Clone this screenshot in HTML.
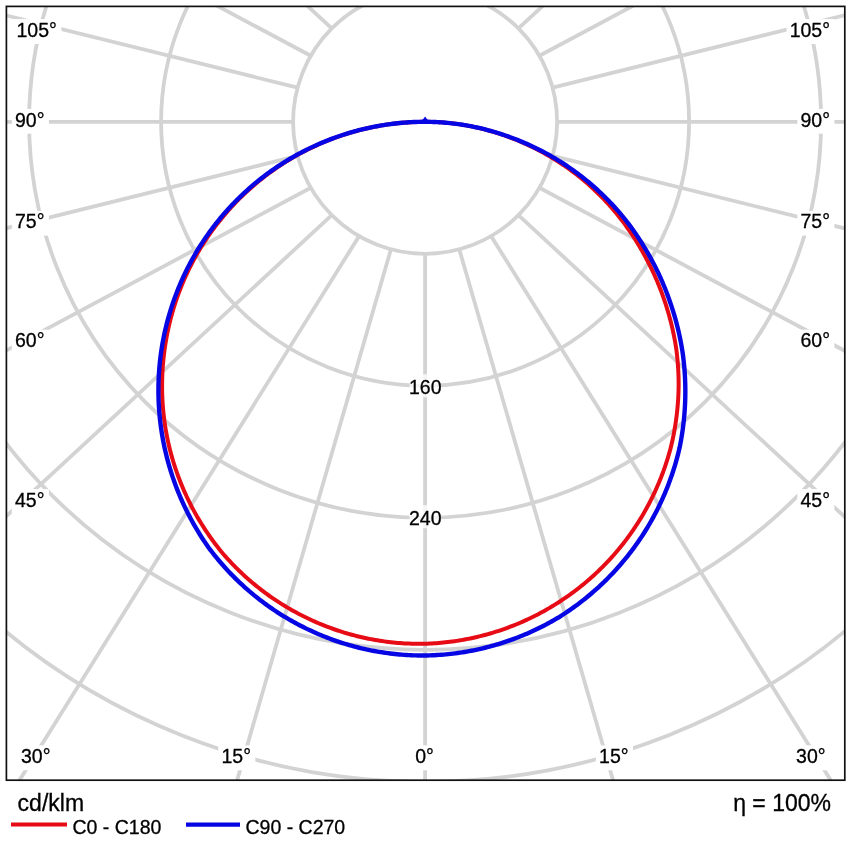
<!DOCTYPE html><html><head><meta charset="utf-8"><style>html,body{margin:0;padding:0;background:#fff;width:848px;height:848px;overflow:hidden}svg{display:block;will-change:transform}text{font-family:"Liberation Sans",Arial,sans-serif;fill:#000;stroke:#000;stroke-width:0.3px}</style></head><body>
<svg width="848" height="848" viewBox="0 0 848 848">
<rect width="848" height="848" fill="#fff"/>
<defs><clipPath id="fr"><rect x="6.4" y="6.4" width="838.4" height="773.8000000000001"/></clipPath></defs>
<g clip-path="url(#fr)" fill="none" stroke="#d3d3d3" stroke-width="3.8">
<circle cx="425.1" cy="121.8" r="132.00"/>
<circle cx="425.1" cy="121.8" r="264.00"/>
<circle cx="425.1" cy="121.8" r="396.00"/>
<circle cx="425.1" cy="121.8" r="528.00"/>
<circle cx="425.1" cy="121.8" r="660.00"/>
<path d="M425.10 253.80L425.10 783.20M390.94 249.30L236.28 783.20M359.10 236.12L17.63 783.20M331.76 215.14L3.40 518.87M310.78 187.80L3.40 351.96M297.60 155.96L3.40 228.88M293.10 121.80L3.40 121.80M297.60 87.64L3.40 14.72M310.78 55.80L212.67 3.40M331.76 28.46L304.67 3.40M359.10 7.48L356.55 3.40M491.10 7.48L493.65 3.40M518.44 28.46L545.53 3.40M539.42 55.80L637.53 3.40M552.60 87.64L847.80 14.47M557.10 121.80L847.80 121.80M552.60 155.96L847.80 229.13M539.42 187.80L847.80 352.49M518.44 215.14L847.80 519.80M491.10 236.12L832.57 783.20M459.26 249.30L613.92 783.20"/>
</g>
<g fill="#fff">
<rect x="13.3" y="19.1" width="48.1" height="24.9" fill-opacity="1"/>
<rect x="11.8" y="108.9" width="37.1" height="24.8" fill-opacity="1"/>
<rect x="11.8" y="210.8" width="37.1" height="24.8" fill-opacity="1"/>
<rect x="11.8" y="329.7" width="37.1" height="24.8" fill-opacity="1"/>
<rect x="11.8" y="489.1" width="37.1" height="24.8" fill-opacity="1"/>
<rect x="17.8" y="745.4" width="37.1" height="24.9" fill-opacity="1"/>
<rect x="218.3" y="745.4" width="37.1" height="24.9" fill-opacity="1"/>
<rect x="412.1" y="745.4" width="26.3" height="24.9" fill-opacity="1"/>
<rect x="595.9" y="745.4" width="37.1" height="24.9" fill-opacity="1"/>
<rect x="792.9" y="745.4" width="37.1" height="24.9" fill-opacity="1"/>
<rect x="797.3" y="489.1" width="37.1" height="24.8" fill-opacity="1"/>
<rect x="797.3" y="329.7" width="37.1" height="24.8" fill-opacity="1"/>
<rect x="797.3" y="210.8" width="37.1" height="24.8" fill-opacity="1"/>
<rect x="797.3" y="108.9" width="37.1" height="24.8" fill-opacity="1"/>
<rect x="786.5" y="19.1" width="48.1" height="24.9" fill-opacity="1"/>
<rect x="409.5" y="374.2" width="31.1" height="23.1" fill-opacity="0.75"/>
<rect x="409.5" y="505.1" width="31.1" height="23.1" fill-opacity="0.75"/>
</g>
<g font-size="19.5">
<text x="16.5" y="36.8" text-anchor="start">105°</text>
<text x="15.0" y="126.6" text-anchor="start">90°</text>
<text x="15.0" y="228.4" text-anchor="start">75°</text>
<text x="15.0" y="347.3" text-anchor="start">60°</text>
<text x="15.0" y="506.7" text-anchor="start">45°</text>
<text x="21.0" y="763.0" text-anchor="start">30°</text>
<text x="236.2" y="763.0" text-anchor="middle">15°</text>
<text x="424.6" y="763.0" text-anchor="middle">0°</text>
<text x="613.8" y="763.0" text-anchor="middle">15°</text>
<text x="825.6" y="763.0" text-anchor="end">30°</text>
<text x="830.0" y="506.7" text-anchor="end">45°</text>
<text x="830.0" y="347.3" text-anchor="end">60°</text>
<text x="830.0" y="228.4" text-anchor="end">75°</text>
<text x="830.0" y="126.6" text-anchor="end">90°</text>
<text x="830.0" y="36.8" text-anchor="end">105°</text>
<text x="425.3" y="393.8" text-anchor="middle">160</text>
<text x="425.3" y="524.8" text-anchor="middle">240</text>
</g>
<path d="M425.10 121.80L427.13 121.81L429.16 121.84L431.19 121.88L433.23 121.94L435.26 122.02L437.30 122.12L439.34 122.23L441.38 122.37L443.42 122.52L445.46 122.69L447.50 122.88L449.54 123.08L451.59 123.30L453.63 123.55L455.68 123.80L457.72 124.08L459.76 124.38L461.81 124.69L463.85 125.02L465.89 125.37L467.93 125.74L469.97 126.12L472.01 126.52L474.05 126.94L476.08 127.38L478.12 127.84L480.15 128.32L482.18 128.81L484.21 129.32L486.23 129.85L488.26 130.40L490.28 130.96L492.30 131.54L494.31 132.14L496.32 132.76L498.33 133.40L500.34 134.05L502.34 134.73L504.34 135.42L506.33 136.12L508.35 136.85L510.36 137.60L512.36 138.37L514.37 139.15L516.37 139.95L518.36 140.77L520.35 141.61L522.34 142.47L524.32 143.34L526.30 144.24L528.28 145.15L530.25 146.08L532.21 147.02L534.17 147.99L536.13 148.97L538.07 149.97L540.02 150.99L541.96 152.02L543.89 153.07L545.81 154.14L547.70 155.22L549.58 156.32L551.45 157.43L553.31 158.56L555.17 159.71L557.02 160.88L558.86 162.06L560.69 163.25L562.51 164.47L564.32 165.70L566.13 166.94L567.93 168.21L569.71 169.49L571.49 170.78L573.26 172.09L575.02 173.42L576.77 174.77L578.51 176.13L580.24 177.50L581.96 178.89L583.63 180.28L585.29 181.69L586.93 183.11L588.57 184.55L590.19 186.00L591.80 187.46L593.40 188.94L594.98 190.44L596.56 191.95L598.12 193.47L599.67 195.00L601.21 196.55L602.73 198.12L604.24 199.69L605.74 201.28L607.23 202.89L608.70 204.51L610.16 206.14L611.61 207.78L613.04 209.44L614.46 211.11L615.87 212.79L617.26 214.49L618.64 216.19L620.00 217.91L621.35 219.65L622.69 221.39L624.01 223.15L625.31 224.92L626.61 226.70L627.88 228.49L629.15 230.29L630.39 232.11L631.63 233.93L632.84 235.77L634.05 237.62L635.23 239.48L636.40 241.35L637.56 243.23L638.70 245.12L639.83 247.02L640.93 248.94L642.03 250.86L643.11 252.79L644.21 254.76L645.31 256.74L646.39 258.74L647.45 260.74L648.49 262.75L649.52 264.77L650.54 266.81L651.53 268.85L652.51 270.90L653.48 272.96L654.43 275.03L655.36 277.11L656.27 279.20L657.17 281.30L658.05 283.40L658.91 285.52L659.76 287.64L660.59 289.77L661.40 291.91L662.20 294.06L662.97 296.22L663.73 298.38L664.48 300.55L665.20 302.73L665.92 304.92L666.62 307.12L667.30 309.33L667.96 311.55L668.61 313.77L669.24 316.00L669.85 318.23L670.44 320.47L671.01 322.72L671.57 324.97L672.11 327.23L672.62 329.50L673.12 331.77L673.61 334.04L674.07 336.33L674.51 338.61L674.94 340.90L675.35 343.20L675.73 345.50L676.10 347.81L676.41 350.07L676.69 352.34L676.95 354.61L677.20 356.88L677.42 359.16L677.63 361.44L677.82 363.72L677.99 366.01L678.13 368.30L678.26 370.58L678.37 372.87L678.47 375.17L678.54 377.46L678.59 379.75L678.62 382.05L678.64 384.35L678.62 386.63L678.57 388.91L678.51 391.19L678.43 393.47L678.34 395.75L678.22 398.03L678.08 400.31L677.92 402.59L677.74 404.86L677.55 407.14L677.33 409.42L677.10 411.69L676.84 413.96L676.57 416.23L676.28 418.50L675.97 420.77L675.63 423.04L675.28 425.30L674.91 427.56L674.52 429.81L674.12 432.07L673.69 434.32L673.24 436.57L672.78 438.81L672.29 441.05L671.79 443.29L671.26 445.52L670.72 447.75L670.14 449.94L669.53 452.13L668.91 454.31L668.27 456.49L667.61 458.66L666.93 460.83L666.23 462.99L665.51 465.14L664.78 467.29L664.02 469.43L663.25 471.57L662.46 473.70L661.65 475.82L660.82 477.94L659.98 480.05L659.12 482.15L658.23 484.25L657.33 486.33L656.42 488.41L655.48 490.49L654.53 492.55L653.56 494.61L652.57 496.65L651.56 498.69L650.54 500.72L649.50 502.75L648.44 504.76L647.36 506.76L646.27 508.76L645.16 510.75L644.03 512.72L642.88 514.69L641.72 516.65L640.54 518.59L639.35 520.53L638.13 522.46L636.90 524.37L635.66 526.28L634.40 528.18L633.12 530.06L631.82 531.93L630.51 533.80L629.19 535.65L627.84 537.49L626.49 539.32L625.11 541.13L623.72 542.94L622.32 544.73L620.89 546.51L619.46 548.28L618.01 550.04L616.54 551.78L615.05 553.50L613.55 555.21L612.04 556.91L610.51 558.60L608.96 560.27L607.41 561.92L605.83 563.57L604.25 565.20L602.64 566.82L601.03 568.42L599.40 570.01L597.76 571.59L596.10 573.15L594.43 574.69L592.75 576.23L591.05 577.74L589.34 579.25L587.62 580.74L585.88 582.21L584.13 583.67L582.37 585.11L580.60 586.54L578.81 587.95L577.02 589.35L575.21 590.73L573.38 592.10L571.55 593.45L569.71 594.78L567.85 596.10L565.98 597.40L564.10 598.69L562.21 599.96L560.31 601.21L558.40 602.45L556.47 603.67L554.54 604.88L552.60 606.06L550.64 607.23L548.68 608.39L546.70 609.52L544.72 610.64L542.73 611.74L540.72 612.83L538.71 613.90L536.69 614.95L534.66 615.98L532.62 616.99L530.57 617.99L528.51 618.97L526.45 619.93L524.37 620.87L522.29 621.80L520.20 622.71L518.10 623.59L516.00 624.47L513.88 625.32L511.76 626.15L509.64 626.97L507.50 627.76L505.36 628.54L503.21 629.30L501.06 630.04L498.90 630.77L496.73 631.47L494.56 632.16L492.38 632.82L490.19 633.47L488.00 634.10L485.81 634.71L483.61 635.30L481.40 635.87L479.19 636.42L476.97 636.95L474.75 637.46L472.53 637.96L470.30 638.43L468.07 638.89L465.83 639.32L463.59 639.74L461.35 640.13L459.10 640.51L456.85 640.87L454.59 641.21L452.34 641.52L450.08 641.82L447.82 642.10L445.55 642.36L443.29 642.60L441.02 642.82L438.75 643.02L436.48 643.20L434.20 643.36L431.93 643.50L429.65 643.62L427.38 643.72L425.10 643.80L422.82 643.83L420.54 643.85L418.27 643.84L415.99 643.81L413.71 643.77L411.43 643.70L409.16 643.62L406.88 643.51L404.61 643.39L402.33 643.24L400.06 643.08L397.79 642.89L395.52 642.69L393.25 642.46L390.99 642.22L388.73 641.95L386.47 641.67L384.21 641.36L381.95 641.04L379.70 640.70L377.45 640.34L375.21 639.95L372.97 639.55L370.73 639.13L368.49 638.69L366.26 638.23L364.03 637.75L361.81 637.25L359.59 636.73L357.38 636.19L355.17 635.63L352.97 635.05L350.77 634.46L348.57 633.84L346.39 633.21L344.20 632.55L342.03 631.88L339.86 631.19L337.69 630.48L335.54 629.75L333.38 629.00L331.24 628.23L329.10 627.44L326.97 626.64L324.85 625.82L322.73 624.97L320.62 624.11L318.52 623.23L316.42 622.34L314.34 621.42L312.26 620.49L310.19 619.53L308.13 618.56L306.08 617.57L304.03 616.57L302.00 615.54L299.97 614.50L297.95 613.44L295.95 612.36L293.95 611.27L291.96 610.16L289.98 609.03L288.01 607.88L286.05 606.72L284.10 605.54L282.16 604.34L280.24 603.13L278.32 601.90L276.41 600.65L274.52 599.39L272.63 598.11L270.76 596.81L268.90 595.50L267.05 594.17L265.21 592.82L263.38 591.46L261.57 590.08L259.77 588.68L257.98 587.27L256.20 585.85L254.44 584.41L252.68 582.95L250.94 581.48L249.22 579.99L247.50 578.49L245.80 576.97L244.12 575.44L242.44 573.89L240.78 572.33L239.14 570.75L237.51 569.16L235.89 567.56L234.28 565.94L232.69 564.30L231.12 562.66L229.56 560.99L228.01 559.32L226.48 557.63L224.96 555.93L223.46 554.21L221.99 552.45L220.54 550.67L219.10 548.88L217.68 547.07L216.27 545.26L214.88 543.43L213.51 541.59L212.15 539.73L210.81 537.87L209.48 535.99L208.17 534.11L206.88 532.21L205.61 530.30L204.35 528.38L203.10 526.45L201.88 524.50L200.67 522.55L199.48 520.59L198.30 518.61L197.15 516.63L196.01 514.63L194.88 512.63L193.78 510.62L192.69 508.59L191.62 506.56L190.57 504.52L189.54 502.47L188.52 500.41L187.52 498.34L186.54 496.26L185.58 494.17L184.64 492.08L183.71 489.98L182.81 487.87L181.92 485.75L181.05 483.62L180.20 481.49L179.36 479.35L178.55 477.20L177.76 475.04L176.98 472.88L176.22 470.71L175.48 468.54L174.76 466.36L174.06 464.17L173.38 461.98L172.72 459.78L172.08 457.57L171.45 455.36L170.85 453.14L170.27 450.92L169.70 448.70L169.15 446.47L168.63 444.23L168.12 441.99L167.63 439.74L167.17 437.50L166.72 435.24L166.29 432.99L165.88 430.73L165.50 428.45L165.14 426.17L164.80 423.89L164.48 421.61L164.18 419.32L163.90 417.03L163.64 414.74L163.40 412.45L163.18 410.15L162.98 407.85L162.80 405.55L162.64 403.25L162.50 400.95L162.38 398.65L162.28 396.35L162.20 394.04L162.14 391.74L162.10 389.43L162.08 387.13L162.08 384.82L162.10 382.52L162.14 380.21L162.20 377.91L162.28 375.61L162.38 373.30L162.50 371.00L162.64 368.70L162.80 366.40L162.98 364.11L163.18 361.81L163.40 359.52L163.63 357.22L163.89 354.93L164.17 352.65L164.47 350.36L164.79 348.08L165.13 345.80L165.49 343.53L165.87 341.26L166.27 338.99L166.67 336.73L167.10 334.48L167.55 332.23L168.02 329.98L168.50 327.74L169.01 325.50L169.53 323.27L170.08 321.04L170.64 318.82L171.23 316.60L171.83 314.39L172.45 312.18L173.10 309.98L173.76 307.78L174.44 305.59L175.14 303.41L175.85 301.23L176.59 299.06L177.35 296.89L178.12 294.73L178.92 292.58L179.73 290.44L180.56 288.30L181.41 286.17L182.28 284.05L183.17 281.93L184.07 279.82L185.00 277.73L185.94 275.63L186.90 273.55L187.88 271.48L188.87 269.41L189.89 267.35L190.92 265.31L191.97 263.27L193.04 261.24L194.12 259.22L195.23 257.21L196.35 255.20L197.49 253.21L198.65 251.23L199.83 249.25L201.03 247.29L202.24 245.33L203.47 243.39L204.72 241.46L205.98 239.54L207.26 237.63L208.56 235.73L209.88 233.84L211.21 231.96L212.55 230.10L213.92 228.25L215.29 226.41L216.69 224.58L218.10 222.76L219.53 220.96L220.97 219.17L222.42 217.39L223.90 215.62L225.38 213.87L226.89 212.13L228.40 210.41L229.94 208.69L231.48 206.99L233.05 205.31L234.62 203.64L236.21 201.98L237.82 200.33L239.44 198.70L241.07 197.09L242.72 195.49L244.38 193.90L246.05 192.33L247.74 190.77L249.44 189.23L251.16 187.70L252.89 186.19L254.63 184.69L256.38 183.21L258.15 181.74L259.93 180.29L261.72 178.86L263.52 177.44L265.34 176.03L267.17 174.64L269.01 173.27L270.86 171.92L272.72 170.58L274.60 169.25L276.48 167.95L278.38 166.66L280.29 165.38L282.21 164.13L284.14 162.89L286.08 161.66L288.03 160.46L289.99 159.27L291.97 158.10L293.95 156.94L295.95 155.80L297.95 154.68L299.97 153.58L302.00 152.49L304.03 151.43L306.08 150.38L308.13 149.34L310.19 148.33L312.26 147.33L314.34 146.36L316.42 145.40L318.52 144.45L320.62 143.53L322.73 142.63L324.85 141.74L326.97 140.87L329.10 140.03L331.24 139.20L333.38 138.39L335.54 137.59L337.69 136.82L339.86 136.06L342.03 135.33L344.20 134.61L346.39 133.92L348.57 133.24L350.77 132.58L352.97 131.94L355.17 131.32L357.38 130.72L359.59 130.13L361.81 129.57L364.03 129.03L366.26 128.50L368.49 128.00L370.73 127.51L372.97 127.05L375.21 126.60L377.45 126.18L379.70 125.77L381.95 125.39L384.21 125.02L386.47 124.67L388.73 124.34L390.99 124.04L393.25 123.75L395.52 123.48L397.79 123.23L400.06 123.00L402.33 122.79L404.61 122.61L406.88 122.44L409.16 122.29L411.43 122.16L413.71 122.05L415.99 121.96L418.27 121.89L420.54 121.84L422.82 121.81L425.10 121.80" fill="none" stroke="#e60b14" stroke-width="4.0" stroke-linejoin="round" stroke-linecap="round"/>
<path d="M425.10 121.80L427.15 121.81L429.21 121.84L431.26 121.88L433.32 121.94L435.39 122.02L437.45 122.12L439.52 122.24L441.59 122.38L443.67 122.53L445.74 122.70L447.82 122.89L449.90 123.10L451.98 123.33L454.06 123.57L456.14 123.83L458.23 124.12L460.31 124.42L462.40 124.74L464.49 125.07L466.57 125.43L468.66 125.80L470.75 126.20L472.83 126.61L474.92 127.04L477.01 127.48L479.10 127.95L481.18 128.44L483.27 128.94L485.35 129.46L487.43 130.01L489.51 130.57L491.59 131.14L493.67 131.74L495.75 132.36L497.82 132.99L499.89 133.65L501.96 134.32L504.03 135.01L506.09 135.72L508.15 136.44L510.24 137.20L512.32 137.96L514.39 138.75L516.47 139.56L518.54 140.39L520.61 141.23L522.67 142.10L524.74 142.98L526.80 143.88L528.85 144.80L530.91 145.74L532.95 146.70L535.00 147.68L537.04 148.67L539.08 149.69L541.11 150.72L543.13 151.78L545.16 152.85L547.17 153.94L549.19 155.05L551.14 156.16L553.08 157.29L555.02 158.44L556.95 159.61L558.87 160.79L560.79 161.99L562.69 163.21L564.59 164.45L566.48 165.70L568.36 166.97L570.24 168.26L572.10 169.56L573.96 170.89L575.80 172.22L577.64 173.58L579.47 174.95L581.28 176.34L583.09 177.75L584.89 179.17L586.68 180.61L588.42 182.05L590.16 183.51L591.88 184.99L593.59 186.48L595.29 187.98L596.97 189.50L598.65 191.04L600.31 192.59L601.96 194.16L603.60 195.74L605.23 197.33L606.84 198.95L608.45 200.57L610.04 202.21L611.61 203.87L613.18 205.54L614.73 207.22L616.26 208.92L617.79 210.63L619.30 212.36L620.74 214.07L622.17 215.80L623.59 217.54L624.99 219.29L626.38 221.06L627.75 222.84L629.11 224.63L630.45 226.43L631.78 228.25L633.09 230.07L634.39 231.91L635.67 233.76L636.93 235.62L638.18 237.49L639.41 239.38L640.63 241.27L641.83 243.18L643.02 245.09L644.18 247.02L645.34 248.95L646.52 250.93L647.68 252.91L648.82 254.90L649.95 256.91L651.07 258.92L652.17 260.95L653.25 262.98L654.31 265.03L655.36 267.08L656.39 269.15L657.40 271.22L658.40 273.30L659.38 275.40L660.34 277.50L661.28 279.61L662.21 281.73L663.12 283.86L664.01 286.00L664.89 288.15L665.74 290.30L666.58 292.46L667.40 294.63L668.21 296.81L668.99 299.00L669.78 301.21L670.55 303.42L671.30 305.65L672.04 307.88L672.75 310.12L673.45 312.37L674.13 314.62L674.79 316.88L675.43 319.14L676.05 321.42L676.66 323.70L677.24 325.98L677.81 328.27L678.36 330.57L678.89 332.87L679.40 335.18L679.89 337.50L680.36 339.81L680.82 342.14L681.25 344.47L681.66 346.80L682.06 349.14L682.44 351.48L682.79 353.83L683.10 356.15L683.38 358.47L683.65 360.80L683.90 363.13L684.13 365.47L684.34 367.81L684.52 370.15L684.69 372.49L684.84 374.83L684.97 377.18L685.08 379.52L685.17 381.87L685.24 384.22L685.29 386.57L685.32 388.93L685.33 391.28L685.32 393.63L685.30 395.99L685.25 398.34L685.18 400.70L685.09 403.05L684.98 405.41L684.85 407.76L684.70 410.12L684.53 412.47L684.35 414.82L684.14 417.18L683.91 419.53L683.66 421.88L683.39 424.22L683.11 426.57L682.80 428.91L682.47 431.25L682.12 433.59L681.76 435.93L681.37 438.26L680.96 440.60L680.53 442.93L680.09 445.25L679.62 447.57L679.10 449.84L678.55 452.10L677.99 454.36L677.40 456.62L676.80 458.86L676.17 461.11L675.53 463.35L674.87 465.58L674.19 467.81L673.49 470.03L672.77 472.25L672.03 474.46L671.28 476.66L670.50 478.86L669.70 481.05L668.89 483.23L668.06 485.41L667.21 487.58L666.34 489.75L665.45 491.90L664.54 494.05L663.61 496.19L662.67 498.32L661.71 500.45L660.72 502.56L659.72 504.67L658.71 506.77L657.67 508.86L656.62 510.95L655.55 513.02L654.46 515.08L653.35 517.14L652.22 519.18L651.08 521.22L649.92 523.25L648.74 525.26L647.55 527.27L646.33 529.26L645.11 531.25L643.86 533.22L642.59 535.19L641.31 537.14L640.02 539.08L638.70 541.02L637.37 542.94L636.02 544.85L634.66 546.74L633.28 548.63L631.88 550.50L630.46 552.35L629.03 554.20L627.59 556.03L626.12 557.85L624.65 559.66L623.15 561.46L621.64 563.24L620.12 565.01L618.58 566.76L617.02 568.51L615.45 570.24L613.86 571.95L612.26 573.66L610.65 575.34L609.02 577.02L607.38 578.68L605.72 580.33L604.05 581.96L602.36 583.58L600.66 585.18L598.94 586.77L597.22 588.34L595.47 589.90L593.72 591.44L591.95 592.97L590.17 594.48L588.37 595.98L586.57 597.46L584.75 598.93L582.91 600.38L581.07 601.82L579.21 603.23L577.34 604.64L575.46 606.02L573.56 607.39L571.65 608.75L569.74 610.09L567.81 611.41L565.87 612.71L563.91 614.00L561.95 615.27L559.98 616.52L557.99 617.76L555.99 618.94L553.97 620.11L551.95 621.26L549.91 622.39L547.87 623.50L545.81 624.60L543.75 625.68L541.67 626.74L539.59 627.78L537.50 628.80L535.40 629.81L533.29 630.80L531.17 631.76L529.05 632.72L526.91 633.65L524.77 634.56L522.62 635.46L520.46 636.33L518.30 637.19L516.12 638.03L513.94 638.85L511.76 639.65L509.56 640.43L507.36 641.19L505.16 641.93L502.94 642.66L500.72 643.36L498.50 644.05L496.27 644.71L494.03 645.36L491.78 645.98L489.54 646.59L487.28 647.18L485.02 647.75L482.76 648.30L480.49 648.82L478.22 649.33L475.94 649.82L473.66 650.29L471.38 650.74L469.09 651.17L466.79 651.58L464.50 651.97L462.20 652.34L459.90 652.69L457.59 653.01L455.28 653.32L452.97 653.61L450.66 653.88L448.34 654.13L446.02 654.36L443.70 654.57L441.38 654.75L439.06 654.92L436.74 655.07L434.41 655.20L432.08 655.30L429.76 655.39L427.43 655.45L425.10 655.50L422.77 655.51L420.44 655.49L418.11 655.46L415.79 655.41L413.46 655.33L411.13 655.24L408.81 655.13L406.48 654.99L404.16 654.84L401.83 654.66L399.51 654.47L397.20 654.25L394.88 654.02L392.56 653.76L390.25 653.48L387.94 653.19L385.63 652.87L383.33 652.53L381.03 652.18L378.73 651.80L376.44 651.40L374.15 650.98L371.86 650.55L369.57 650.09L367.29 649.61L365.02 649.12L362.75 648.60L360.48 648.06L358.22 647.51L355.97 646.93L353.71 646.34L351.47 645.72L349.23 645.09L346.99 644.43L344.76 643.76L342.54 643.06L340.32 642.35L338.11 641.62L335.91 640.87L333.71 640.10L331.52 639.31L329.34 638.50L327.16 637.67L324.99 636.82L322.83 635.96L320.67 635.07L318.53 634.17L316.39 633.25L314.26 632.31L312.14 631.35L310.02 630.37L307.92 629.37L305.82 628.36L303.73 627.32L301.66 626.27L299.59 625.20L297.53 624.11L295.48 623.01L293.44 621.89L291.41 620.74L289.39 619.59L287.38 618.42L285.37 617.23L283.38 616.02L281.40 614.80L279.44 613.55L277.48 612.29L275.53 611.02L273.60 609.72L271.67 608.41L269.76 607.09L267.86 605.74L265.97 604.38L264.09 603.01L262.23 601.61L260.37 600.20L258.53 598.78L256.70 597.34L254.89 595.88L253.09 594.40L251.30 592.91L249.52 591.41L247.76 589.89L246.01 588.35L244.27 586.80L242.55 585.24L240.84 583.65L239.14 582.06L237.46 580.45L235.80 578.82L234.14 577.18L232.50 575.53L230.88 573.86L229.27 572.17L227.68 570.48L226.10 568.77L224.53 567.04L222.98 565.30L221.45 563.55L219.93 561.79L218.43 560.01L216.94 558.21L215.47 556.41L214.01 554.59L212.57 552.76L211.15 550.92L209.74 549.06L208.35 547.20L207.00 545.27L205.66 543.33L204.35 541.38L203.05 539.42L201.76 537.45L200.50 535.47L199.25 533.47L198.02 531.47L196.80 529.45L195.61 527.43L194.43 525.39L193.27 523.35L192.12 521.29L191.00 519.23L189.89 517.15L188.80 515.07L187.73 512.98L186.68 510.87L185.64 508.76L184.62 506.64L183.63 504.51L182.65 502.37L181.69 500.23L180.74 498.07L179.82 495.91L178.92 493.74L178.03 491.57L177.16 489.38L176.32 487.19L175.49 484.99L174.68 482.78L173.89 480.57L173.12 478.35L172.36 476.12L171.63 473.89L170.92 471.65L170.22 469.41L169.55 467.16L168.90 464.90L168.26 462.64L167.65 460.37L167.05 458.10L166.47 455.82L165.92 453.54L165.38 451.25L164.86 448.97L164.36 446.67L163.88 444.38L163.42 442.08L162.98 439.77L162.56 437.47L162.16 435.15L161.79 432.84L161.43 430.52L161.09 428.20L160.77 425.88L160.47 423.55L160.19 421.22L159.93 418.89L159.70 416.56L159.48 414.23L159.28 411.89L159.10 409.55L158.95 407.21L158.81 404.87L158.69 402.53L158.60 400.19L158.52 397.85L158.47 395.51L158.43 393.16L158.42 390.82L158.42 388.48L158.45 386.13L158.49 383.79L158.56 381.45L158.65 379.11L158.75 376.77L158.88 374.43L159.03 372.09L159.20 369.76L159.39 367.42L159.59 365.09L159.82 362.76L160.07 360.43L160.34 358.11L160.63 355.78L160.94 353.46L161.27 351.15L161.62 348.83L161.98 346.52L162.37 344.21L162.78 341.91L163.21 339.61L163.66 337.31L164.13 335.02L164.62 332.73L165.13 330.45L165.66 328.17L166.20 325.90L166.77 323.63L167.36 321.37L167.96 319.11L168.59 316.85L169.24 314.61L169.90 312.37L170.59 310.13L171.29 307.90L172.01 305.68L172.75 303.46L173.52 301.25L174.30 299.05L175.10 296.86L175.91 294.67L176.74 292.49L177.59 290.33L178.46 288.16L179.34 286.01L180.25 283.86L181.17 281.73L182.12 279.60L183.08 277.47L184.06 275.36L185.06 273.26L186.07 271.16L187.11 269.07L188.16 267.00L189.23 264.93L190.32 262.87L191.42 260.82L192.55 258.78L193.69 256.75L194.85 254.74L196.02 252.73L197.22 250.73L198.43 248.74L199.66 246.76L200.90 244.80L202.17 242.84L203.45 240.90L204.74 238.97L206.05 237.05L207.38 235.14L208.73 233.24L210.09 231.35L211.47 229.48L212.86 227.62L214.28 225.77L215.70 223.93L217.15 222.11L218.60 220.29L220.08 218.49L221.57 216.71L223.07 214.94L224.59 213.18L226.13 211.43L227.68 209.70L229.24 207.98L230.82 206.27L232.42 204.58L234.03 202.91L235.65 201.24L237.29 199.59L238.94 197.96L240.61 196.34L242.29 194.73L243.98 193.14L245.69 191.57L247.41 190.01L249.15 188.46L250.89 186.93L252.66 185.42L254.43 183.92L256.22 182.43L258.03 180.96L259.84 179.51L261.67 178.07L263.52 176.65L265.37 175.25L267.23 173.86L269.11 172.48L271.00 171.13L272.90 169.79L274.81 168.47L276.74 167.16L278.67 165.87L280.62 164.60L282.57 163.34L284.54 162.11L286.52 160.88L288.50 159.68L290.50 158.50L292.51 157.33L294.53 156.18L296.55 155.04L298.59 153.93L300.64 152.83L302.69 151.75L304.76 150.69L306.83 149.65L308.91 148.62L311.00 147.62L313.10 146.63L315.21 145.66L317.32 144.71L319.45 143.78L321.58 142.86L323.71 141.97L325.86 141.09L328.01 140.23L330.17 139.39L332.34 138.57L334.52 137.77L336.70 136.99L338.88 136.23L341.08 135.48L343.28 134.76L345.48 134.05L347.70 133.37L349.91 132.70L352.13 132.05L354.36 131.43L356.60 130.82L358.83 130.23L361.08 129.66L363.32 129.11L365.57 128.58L367.83 128.07L370.09 127.58L372.35 127.11L374.62 126.66L376.89 126.23L379.17 125.82L381.45 125.43L383.73 125.06L386.01 124.70L388.30 124.37L390.58 124.06L392.88 123.77L395.17 123.50L397.46 123.25L399.76 123.02L402.06 122.81L404.36 122.61L406.66 122.44L408.96 122.29L411.27 122.16L413.57 122.05L415.88 121.96L418.18 121.89L420.49 121.84L422.79 121.81L425.10 121.80" fill="none" stroke="#0606e4" stroke-width="4.4" stroke-linejoin="round" stroke-linecap="round"/>
<path d="M421.6 121.3L425.1 116.6L428.6 121.3Z" fill="#0606e4"/>
<rect x="6.4" y="6.4" width="838.4" height="773.8000000000001" fill="none" stroke="#111" stroke-width="1.7"/>
<text x="17.6" y="810.5" font-size="23">cd/klm</text>
<text x="831" y="810.5" font-size="23" text-anchor="end">η = 100%</text>
<line x1="11" y1="824.6" x2="67" y2="824.6" stroke="#e60b14" stroke-width="4"/>
<text x="72.5" y="834" font-size="19.5">C0 - C180</text>
<line x1="186" y1="824.6" x2="240" y2="824.6" stroke="#0606e4" stroke-width="4.3"/>
<text x="245.5" y="834" font-size="19.5">C90 - C270</text>
</svg></body></html>
